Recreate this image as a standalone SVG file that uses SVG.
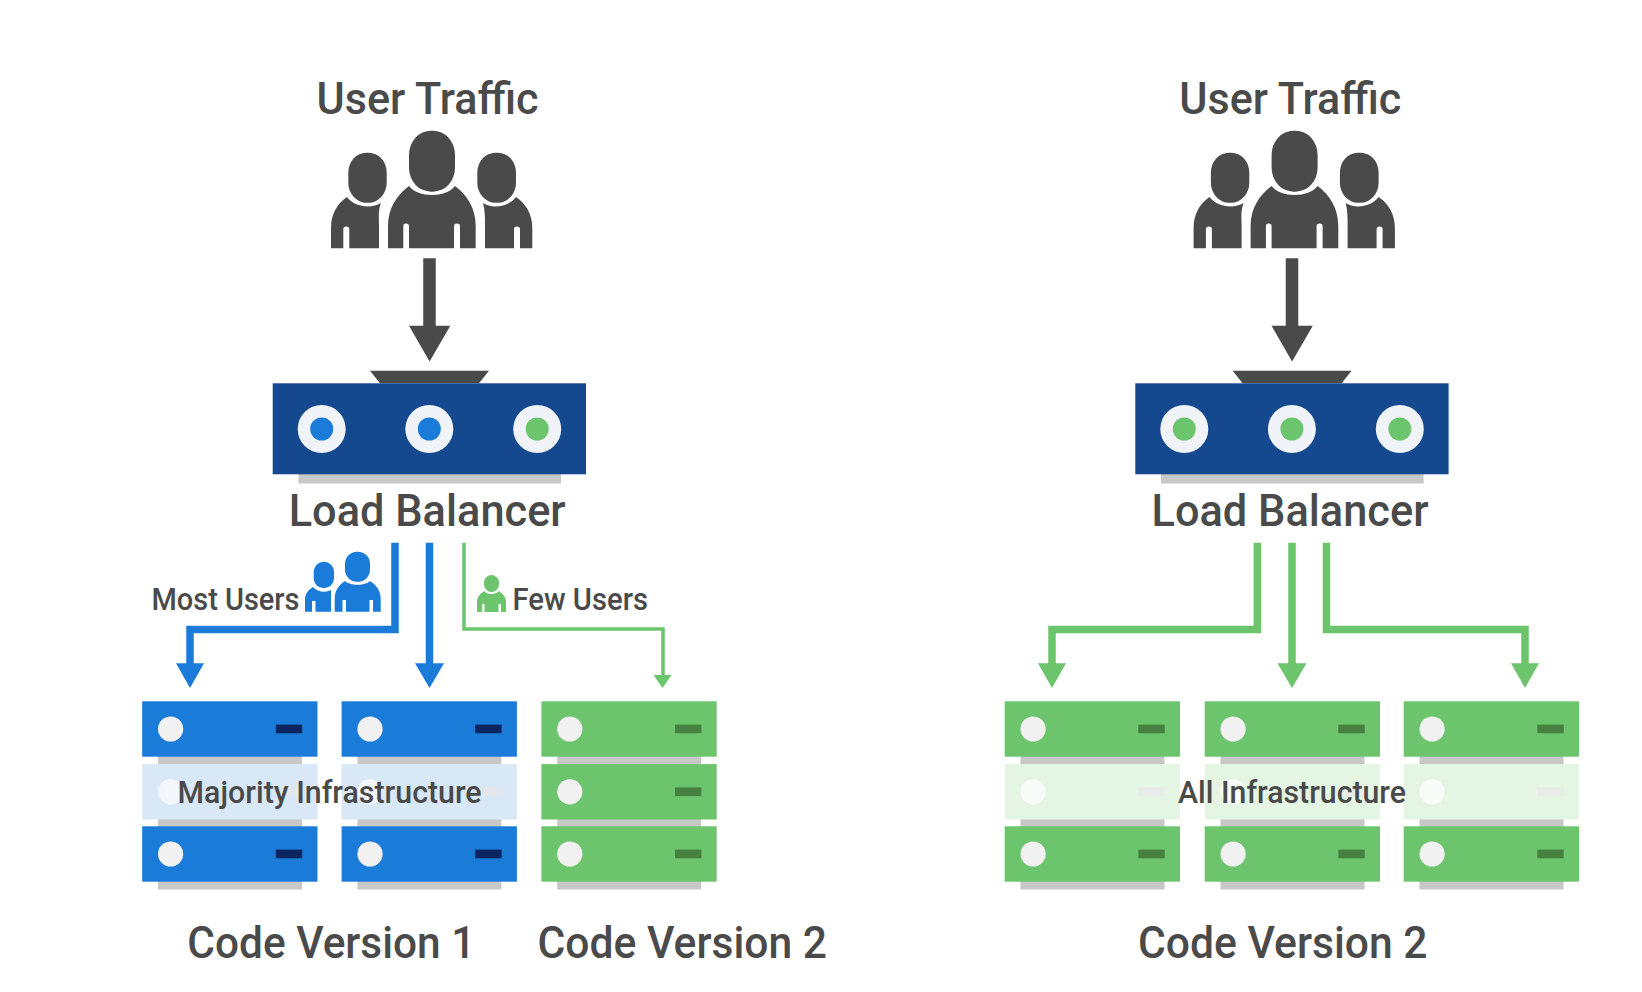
<svg xmlns="http://www.w3.org/2000/svg" width="1642" height="992" viewBox="0 0 1642 992">
  <style>
    text { font-family: Roboto, "Noto Sans", "Liberation Sans", sans-serif; fill: #4a4a4a; font-weight: 500; }
    .title { font-size: 45px; }
    .note { font-size: 31px; }
    .dark { fill: #4a4a4a; }
    .blue { fill: #1a7bd9; }
    .green { fill: #6cc56c; }
    .navy { fill: #14498f; }
    .lamp { fill: #f1f1f1; }
    .shade { fill: #c8c8c8; }
    .blue-line { fill: none; stroke: #1a7bd9; stroke-width: 7.5; }
    .green-line { fill: none; stroke: #6cc56c; stroke-width: 7.5; }
    .thin-line { fill: none; stroke: #6cc56c; stroke-width: 3.5; }
    .dark-line { fill: none; stroke: #4a4a4a; stroke-width: 12.5; }
  </style>
  <defs>
    <!-- three-person crowd icon -->
    <g id="crowd">
      <rect x="409" y="130.7" width="46" height="61" rx="22" ry="24"/>
      <path d="M388 248.3V226C388 208 397 195 409 186C418 198 446 198 455 186C467 195 475.7 208 475.7 226V248.3H460V226Q460 223.5 457 223.5Q454 223.5 454 226V248.3H409V226Q409 223.5 406 223.5Q403.3 223.5 403.3 226V248.3Z"/>
      <rect x="348.3" y="152.7" width="38.4" height="50" rx="18" ry="20"/>
      <path d="M331 248.3V228C331 213 338 203 347 197C354 207 371 209 381 203C378 210 379 218 379 226V248.3H349.3V229Q349.3 226.5 346.3 226.5Q343.3 226.5 343.3 229V248.3Z"/>
      <rect x="477.3" y="152.7" width="38.7" height="50" rx="18" ry="20"/>
      <path d="M532.3 248.3V228C532.3 213 525 203 516 197C509 207 492 209 483 203C485 210 485 218 485 226V248.3H514V229Q514 226.5 517 226.5Q520 226.5 520 229V248.3Z"/>
    </g>
    <!-- rack units: lamp and status slot on a coloured plate, with a shadow below -->
    <g id="unit-blue">
      <rect class="shade" x="158" y="756" width="144" height="8.5"/>
      <rect class="blue" x="142.2" y="701.3" width="175.3" height="55.4"/>
      <circle class="lamp" cx="170.6" cy="729" r="12.6"/>
      <rect x="275.8" y="724.6" width="26.4" height="8.7" fill="#0b2560"/>
    </g>
    <g id="unit-green">
      <rect class="shade" x="158" y="756" width="144" height="8.5"/>
      <rect class="green" x="142.2" y="701.3" width="175.3" height="55.4"/>
      <circle class="lamp" cx="170.6" cy="729" r="12.6"/>
      <rect x="275.8" y="724.6" width="26.4" height="8.7" fill="#47813f"/>
    </g>
    <g id="unit-blue-faded">
      <rect class="shade" x="158" y="756" width="144" height="8.5"/>
      <rect x="142.2" y="701.3" width="175.3" height="55.4" fill="#d9e8f7"/>
      <circle cx="170.6" cy="729" r="12.6" fill="#f4f7fb"/>
      <rect x="275.8" y="724.6" width="26.4" height="8.7" fill="#e3e6ea"/>
    </g>
    <g id="unit-green-faded">
      <rect class="shade" x="158" y="756" width="144" height="8.5"/>
      <rect x="142.2" y="701.3" width="175.3" height="55.4" fill="#e5f5e3"/>
      <circle cx="170.6" cy="729" r="12.6" fill="#f8fbf7"/>
      <rect x="275.8" y="724.6" width="26.4" height="8.7" fill="#e8ebe7"/>
    </g>
    <!-- load balancer chassis without its lamps -->
    <g id="chassis">
      <path class="dark" d="M370 370.7H489L479 383.3H380Z"/>
      <rect class="shade" x="298.4" y="474" width="262.6" height="9.5"/>
      <rect class="navy" x="272.7" y="383.3" width="313.3" height="91"/>
      <circle cx="321.7" cy="429" r="24" fill="#f0f3f8"/>
      <circle cx="429.3" cy="429" r="24" fill="#f0f3f8"/>
      <circle cx="537.2" cy="429" r="24" fill="#f0f3f8"/>
    </g>
  </defs>

  <g id="connectors">
    <path class="dark-line" d="M429.5 258.3V326"/>
    <path class="dark" d="M409 325.7H450.3L429.6 361.5Z"/>
    <path class="blue-line" d="M395 542.7V629.5H190V664"/>
    <path class="blue" d="M176 663.3H204L190 688Z"/>
    <path class="blue-line" d="M429.5 542.7V664"/>
    <path class="blue" d="M415 663.3H444L429.5 688Z"/>
    <path class="thin-line" d="M464 542.7V629H663V676"/>
    <path class="green" d="M653.5 675H671.5L662.5 688Z"/>

    <path class="dark-line" d="M1292 258.3V326"/>
    <path class="dark" d="M1271.5 325.7H1312.8L1292.1 361.5Z"/>
    <path class="green-line" d="M1257.3 542.7V629.5H1052V664"/>
    <path class="green" d="M1038 663.3H1066L1052 688Z"/>
    <path class="green-line" d="M1292 542.7V664"/>
    <path class="green" d="M1277.5 663.3H1306.5L1292 688Z"/>
    <path class="green-line" d="M1326.5 542.7V629.5H1525V664"/>
    <path class="green" d="M1511 663.3H1539L1525 688Z"/>
  </g>

  <g id="traffic-a">
    <text class="title" x="316.5" y="114.3" textLength="222" lengthAdjust="spacingAndGlyphs">User Traffic</text>
    <use href="#crowd" class="dark"/>
  </g>
  <g id="balancer-a">
    <use href="#chassis"/>
    <circle class="blue" cx="321.7" cy="429" r="11.5"/>
    <circle class="blue" cx="429.3" cy="429" r="11.5"/>
    <circle class="green" cx="537.2" cy="429" r="11.5"/>
    <text class="title" x="288.7" y="525.5" textLength="277" lengthAdjust="spacingAndGlyphs">Load Balancer</text>
  </g>
  <g id="most-users">
    <text class="note" x="151.5" y="609.5" textLength="148" lengthAdjust="spacingAndGlyphs">Most Users</text>
    <g class="blue">
      <rect x="313.7" y="561.7" width="20.3" height="26.5" rx="10"/>
      <path d="M305 611.7V600C305 594 308 590 313 587C317 592 326 593 331 590V611.7H315.5V601H312V611.7Z"/>
      <rect x="345" y="551.7" width="25" height="30" rx="12"/>
      <path d="M334.7 611.7V599C334.7 590 339 585 345 581C350 586 365 586 370 581C376 585 380.7 590 380.7 599V611.7H373V600H369.5V611.7H346V600H342.5V611.7Z"/>
    </g>
  </g>
  <g id="few-users">
    <text class="note" x="512.5" y="609.5" textLength="135.5" lengthAdjust="spacingAndGlyphs">Few Users</text>
    <g class="green">
      <rect x="484" y="575" width="15" height="17" rx="7.5"/>
      <path d="M477 612V602C477 597 480 594 484 591C487 595 496 595 499 591C503 594 506 597 506 602V612H501V604H498.5V612H484.5V604H482V612Z"/>
    </g>
  </g>
  <g id="pool-version-1">
    <use href="#unit-blue"/>
    <use href="#unit-blue" x="199.4"/>
    <use href="#unit-blue-faded" y="62.8"/>
    <use href="#unit-blue-faded" x="199.4" y="62.8"/>
    <use href="#unit-blue" y="125"/>
    <use href="#unit-blue" x="199.4" y="125"/>
    <text class="note" x="177.6" y="803" textLength="304" lengthAdjust="spacingAndGlyphs">Majority Infrastructure</text>
    <text class="title" x="187.3" y="958" textLength="288" lengthAdjust="spacingAndGlyphs">Code Version 1</text>
  </g>
  <g id="pool-version-2">
    <use href="#unit-green" x="399.2"/>
    <use href="#unit-green" x="399.2" y="62.8"/>
    <use href="#unit-green" x="399.2" y="125"/>
    <text class="title" x="537.5" y="958" textLength="289.5" lengthAdjust="spacingAndGlyphs">Code Version 2</text>
  </g>

  <g id="traffic-b">
    <text class="title" x="1179.3" y="114.3" textLength="222" lengthAdjust="spacingAndGlyphs">User Traffic</text>
    <use href="#crowd" class="dark" x="862.6"/>
  </g>
  <g id="balancer-b">
    <use href="#chassis" x="862.6"/>
    <circle class="green" cx="1184.3" cy="429" r="11.5"/>
    <circle class="green" cx="1291.9" cy="429" r="11.5"/>
    <circle class="green" cx="1399.8" cy="429" r="11.5"/>
    <text class="title" x="1151.5" y="525.5" textLength="277" lengthAdjust="spacingAndGlyphs">Load Balancer</text>
  </g>
  <g id="pool-all">
    <use href="#unit-green" x="862.5"/>
    <use href="#unit-green" x="1062.5"/>
    <use href="#unit-green" x="1261.5"/>
    <use href="#unit-green-faded" x="862.5" y="62.8"/>
    <use href="#unit-green-faded" x="1062.5" y="62.8"/>
    <use href="#unit-green-faded" x="1261.5" y="62.8"/>
    <use href="#unit-green" x="862.5" y="125"/>
    <use href="#unit-green" x="1062.5" y="125"/>
    <use href="#unit-green" x="1261.5" y="125"/>
    <text class="note" x="1178" y="803" textLength="228" lengthAdjust="spacingAndGlyphs">All Infrastructure</text>
    <text class="title" x="1138" y="958" textLength="289.5" lengthAdjust="spacingAndGlyphs">Code Version 2</text>
  </g>
</svg>
